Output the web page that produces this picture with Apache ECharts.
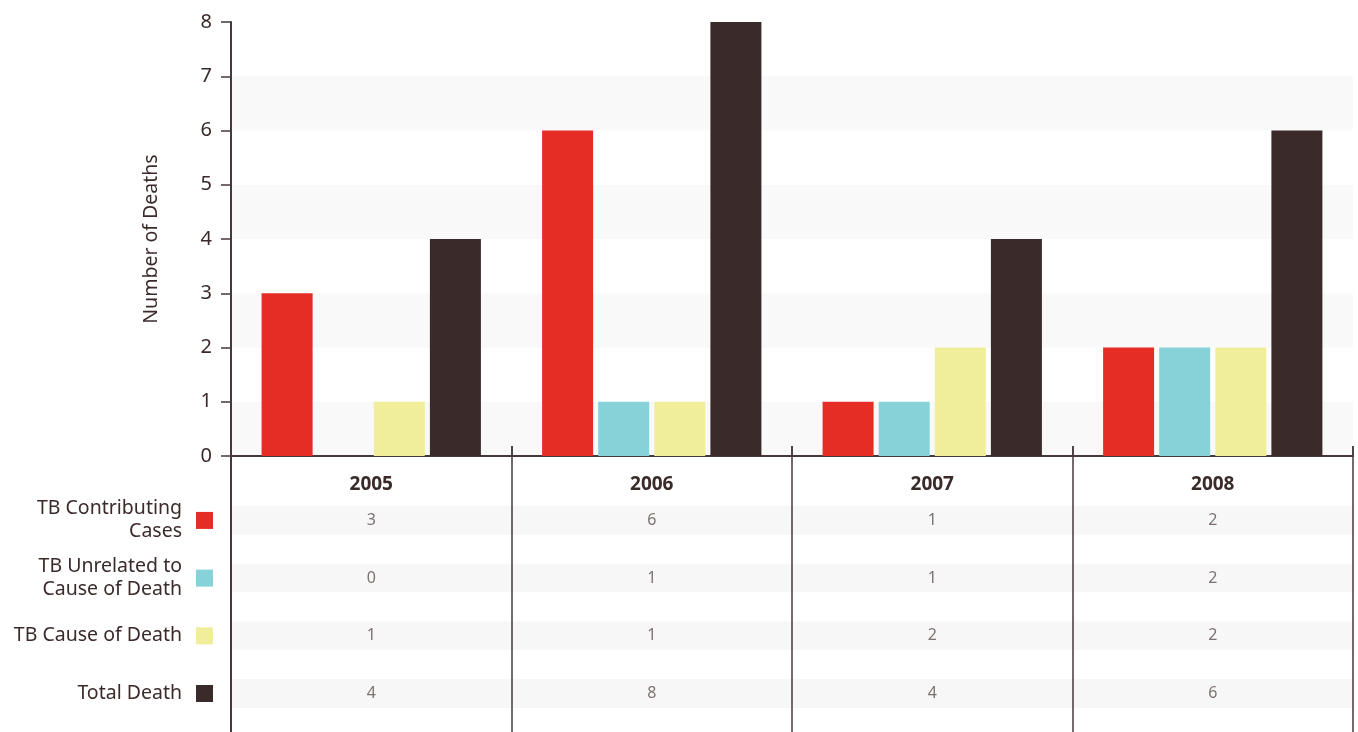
<!DOCTYPE html>
<html>
<head>
<meta charset="utf-8">
<script src="https://cdn.jsdelivr.net/npm/echarts@6/dist/echarts.min.js"></script>
<style>
  html, body { margin: 0; padding: 0; background: #ffffff; }
  #chart { width: 1358px; height: 732px; }
</style>
</head>
<body>
<div id="chart"></div>
<script>
// Deaths among TB cases by year
const years = ['2005', '2006', '2007', '2008'];
const seriesNames = ['TB Contributing Cases', 'TB Unrelated to Cause of Death', 'TB Cause of Death', 'Total Death'];
const rowLabels = ['TB Contributing\nCases', 'TB Unrelated to\nCause of Death', 'TB Cause of Death', 'Total Death'];
const contributing = [3, 6, 1, 2];
const unrelated = [0, 1, 1, 2];
const causeOfDeath = [1, 1, 2, 2];
const totalDeath = [4, 8, 4, 6];
const yTicks = [0, 8, 1]; // min, max, interval

const seriesValues = [contributing, unrelated, causeOfDeath, totalDeath];
const colors = ['#e52d26', '#86d2d8', '#f0ee9a', '#3a2a29'];
const ink = '#3a2b2a';
const font = 'Noto Sans';

// Table rows: each data row is separated from the next by a blank spacer row
const tableRows = [];
rowLabels.forEach(function (l, i) {
  tableRows.push(l);
  if (i < rowLabels.length - 1) tableRows.push('');
});

const chart = echarts.init(document.getElementById('chart'));

const series = [];
seriesValues.forEach(function (vals, i) {
  series.push({
    name: seriesNames[i],
    type: 'bar',
    xAxisIndex: 0, yAxisIndex: 0,
    data: vals,
    barWidth: 51,
    barGap: '10%',
    itemStyle: { color: colors[i] },
    silent: true
  });
  // legend swatch beside the row label
  series.push({
    name: seriesNames[i] + ' key',
    type: 'scatter',
    xAxisIndex: 3, yAxisIndex: 3,
    symbol: 'rect',
    symbolSize: 17,
    itemStyle: { color: colors[i], opacity: 1 },
    data: [[0, i * 2]],
    silent: true
  });
  // value cells of the table
  series.push({
    name: seriesNames[i] + ' values',
    type: 'scatter',
    xAxisIndex: 2, yAxisIndex: 2,
    symbolSize: 0,
    data: vals.map(function (v, j) { return [j, i * 2, v]; }),
    label: {
      show: true,
      position: 'inside',
      formatter: function (p) { return String(p.data[2]); },
      color: '#5c5050',
      fontFamily: font,
      fontSize: 16
    },
    silent: true
  });
});

const bandH = 28.85;
const tableTop = 506;
const tableHeight = tableRows.length * bandH;

chart.setOption({
  backgroundColor: '#ffffff',
  animation: false,
  grid: [
    { left: 231, right: 5, top: 22, height: 434 },               // bars
    { left: 231, right: 5, top: 446, bottom: 0 },                // column rules
    { left: 231, right: 5, top: tableTop, height: tableHeight }, // value cells
    { left: 196, width: 17, top: tableTop, height: tableHeight } // legend swatches
  ],
  xAxis: [
    {
      gridIndex: 0, type: 'category', data: years,
      axisLine: { lineStyle: { color: '#45393a', width: 2 } },
      axisTick: { show: true, inside: true, length: 10, interval: 0, lineStyle: { color: '#45393a', width: 1.5 } },
      axisLabel: { color: ink, fontFamily: font, fontWeight: 'bold', fontSize: 19, margin: 19 }
    },
    {
      gridIndex: 1, type: 'category', data: years, z: 3,
      axisLine: { show: false }, axisTick: { show: false }, axisLabel: { show: false },
      splitLine: { show: true, interval: 0, lineStyle: { color: '#45393a', width: 1.5 } }
    },
    {
      gridIndex: 2, type: 'category', data: years, z: 0,
      axisLine: { show: false }, axisTick: { show: false }, axisLabel: { show: false }
    },
    {
      gridIndex: 3, type: 'value', min: -1, max: 1,
      axisLine: { show: false }, axisTick: { show: false }, axisLabel: { show: false }, splitLine: { show: false }
    }
  ],
  yAxis: [
    {
      gridIndex: 0, type: 'value', min: yTicks[0], max: yTicks[1], interval: yTicks[2],
      name: 'Number of Deaths', nameLocation: 'middle', nameGap: 70, nameRotate: 90,
      nameTextStyle: { color: ink, fontFamily: font, fontSize: 19.5 },
      axisLine: { show: true, lineStyle: { color: '#45393a', width: 2 } },
      axisTick: { show: true, length: 10, lineStyle: { color: '#45393a', width: 1.5 } },
      axisLabel: { color: ink, fontFamily: font, fontSize: 20, margin: 19 },
      splitLine: { show: false },
      splitArea: { show: true, areaStyle: { color: ['#f9f9f9', '#ffffff'] } }
    },
    {
      gridIndex: 1, type: 'value', z: 3,
      axisLine: { show: true, lineStyle: { color: '#45393a', width: 2 } },
      axisTick: { show: false }, axisLabel: { show: false }, splitLine: { show: false }
    },
    {
      gridIndex: 2, type: 'category', data: tableRows, inverse: true, z: 0,
      axisLine: { show: false }, axisTick: { show: false }, axisLabel: { show: false },
      splitArea: { show: true, interval: 0, areaStyle: { color: ['#f7f7f7', '#ffffff'] } }
    },
    {
      gridIndex: 3, type: 'category', data: tableRows, inverse: true,
      axisLine: { show: false }, axisTick: { show: false },
      axisLabel: {
        show: true, interval: 0, margin: 14, align: 'right',
        color: ink, fontFamily: font, fontSize: 19.5, lineHeight: 23
      }
    }
  ],
  series: series
});
</script>
</body>
</html>
